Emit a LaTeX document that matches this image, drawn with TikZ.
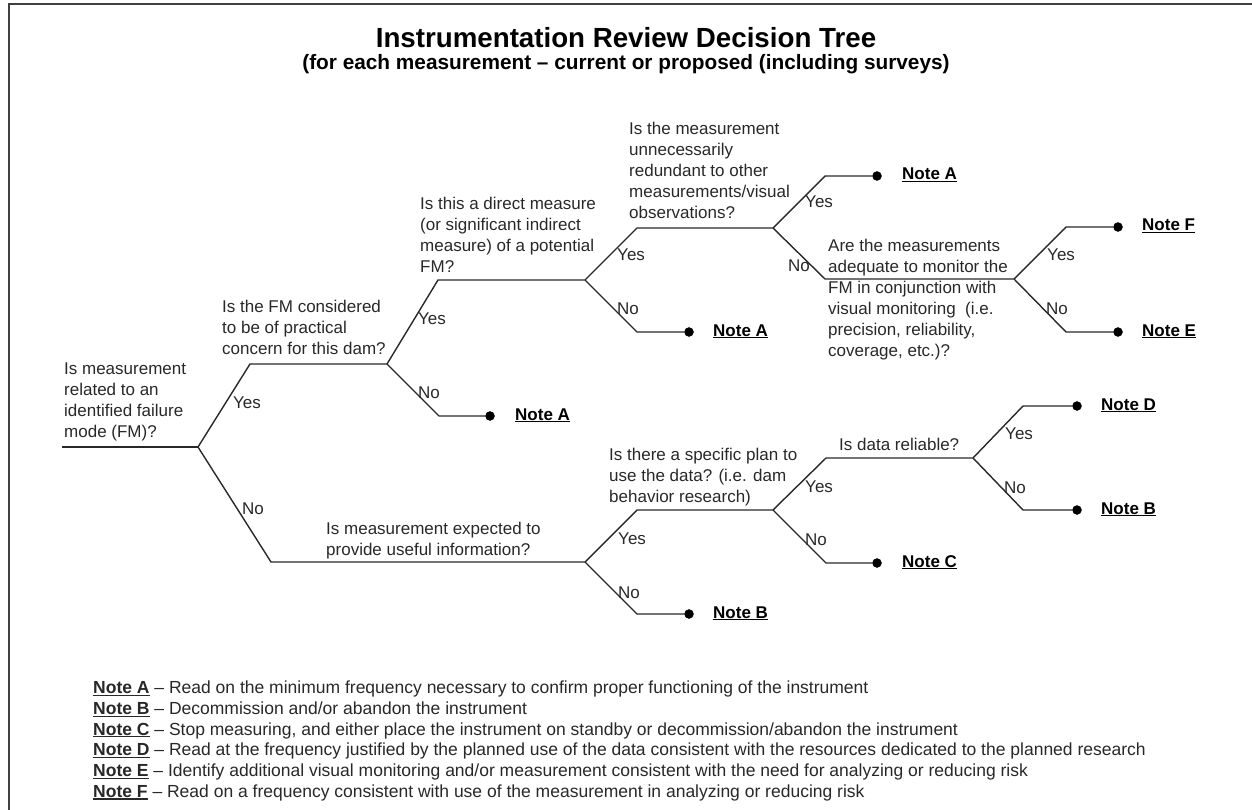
\documentclass[tikz,border=0pt]{standalone}
\usepackage{fontspec}
\setmainfont{Liberation Sans}
\usepackage{tikz}
\definecolor{inkgray}{RGB}{40,40,40}
% underlined bold note label
\newcommand\notelbl[1]{\setbox0\hbox{\bfseries Note #1}\rlap{\rule[-2.2pt]{\wd0}{1.1pt}}\box0\relax}
\tikzset{
  % frame of the page
  frame/.style={draw=black!75,line width=2pt},
  % branch line
  branch/.style={draw=inkgray,line width=1.4pt},
  % end dot
  enddot/.style={circle,fill=black,draw=black,inner sep=0mm,minimum size=9pt},
  % question text
  question/.style={anchor=north west,inner sep=0pt,align=left,text=inkgray,font=\fontsize{17}{21}\selectfont},
  % yes / no label
  answer/.style={anchor=base west,inner sep=0pt,text=inkgray,font=\fontsize{17}{21}\selectfont},
  % note label at an end dot
  notetag/.style={anchor=base west,inner sep=0pt,font=\fontsize{17}{21}\selectfont},
  % titles
  titletext/.style={anchor=base,inner sep=0pt,font=\bfseries\fontsize{27.7}{32}\selectfont},
  subtext/.style={anchor=base,inner sep=0pt,font=\bfseries\fontsize{20.8}{24}\selectfont},
  % list of notes
  legend/.style={anchor=north west,inner sep=0pt,align=left,text=inkgray,font=\fontsize{17.5}{20.7}\selectfont}
}
\begin{document}
\begin{tikzpicture}[x=1pt,y=-1pt]
\useasboundingbox (0,0) rectangle (1252,810);
\draw[frame] (9,810) -- (9,4) -- (1252,4);
\node[titletext] (title) at (626,48) {Instrumentation Review Decision Tree};
\node[subtext] (subtitle) at (626,70) {(for each measurement – current or proposed (including surveys)};
%%%%%%%%%%%%%%%%%%%%%%%%%%%%%%%%%%%%%%%
% branch points and elbows
\coordinate (root) at (62,447);
\coordinate (b0) at (198,447);
\coordinate (e01) at (250,364);
\coordinate (b1) at (387,364);
\coordinate (e02) at (271,562);
\coordinate (b2) at (585,562);
\coordinate (e11) at (438,280);
\coordinate (b5) at (585,280);
\coordinate (e12) at (439,416);
\coordinate (e51) at (637,228);
\coordinate (b6) at (773,228);
\coordinate (e52) at (637,332);
\coordinate (e61) at (825,176);
\coordinate (e62) at (825,279);
\coordinate (b7) at (1014,279);
\coordinate (e71) at (1066,227);
\coordinate (e72) at (1066,332);
\coordinate (e21) at (637,510);
\coordinate (b3) at (773,510);
\coordinate (e22) at (637,614);
\coordinate (e31) at (826,458);
\coordinate (b4) at (973,458);
\coordinate (e32) at (826,563);
\coordinate (e41) at (1023,406);
\coordinate (e42) at (1023,510);
%%%%%%%%%%%%%%%%%%%%%%%%%%%%%%%%%%%%%%%
% end dots
\node[enddot] (d1) at (490,416) {};
\node[enddot] (d2) at (689,332) {};
\node[enddot] (d3) at (877,176) {};
\node[enddot] (d4) at (1118,227) {};
\node[enddot] (d5) at (1118,332) {};
\node[enddot] (d6) at (1077,406) {};
\node[enddot] (d7) at (1077,510) {};
\node[enddot] (d8) at (877,563) {};
\node[enddot] (d9) at (689,614) {};
%%%%%%%%%%%%%%%%%%%%%%%%%%%%%%%%%%%%%%%
% lines
\draw[branch] (root) -- (b0);
\draw[branch] (b0) -- (e01) -- (b1);
\draw[branch] (b0) -- (e02) -- (b2);
\draw[branch] (b1) -- (e11) -- (b5);
\draw[branch] (b1) -- (e12) -- (d1);
\draw[branch] (b5) -- (e51) -- (b6);
\draw[branch] (b5) -- (e52) -- (d2);
\draw[branch] (b6) -- (e61) -- (d3);
\draw[branch] (b6) -- (e62) -- (b7);
\draw[branch] (b7) -- (e71) -- (d4);
\draw[branch] (b7) -- (e72) -- (d5);
\draw[branch] (b2) -- (e21) -- (b3);
\draw[branch] (b2) -- (e22) -- (d9);
\draw[branch] (b3) -- (e31) -- (b4);
\draw[branch] (b3) -- (e32) -- (d8);
\draw[branch] (b4) -- (e41) -- (d6);
\draw[branch] (b4) -- (e42) -- (d7);
%%%%%%%%%%%%%%%%%%%%%%%%%%%%%%%%%%%%%%%
% questions
\node[question] (q0) at (64,363) {Is measurement\\related to an\\identified failure\\mode (FM)?};
\node[question] (q1) at (222,300) {Is the FM considered\\to be of practical\\concern for this dam?};
\node[question] (q2) at (420,197) {Is this a direct measure\\(or significant indirect\\measure) of a potential\\FM?};
\node[question] (q3) at (629,122) {Is the measurement\\unnecessarily\\redundant to other\\measurements/visual\\observations?};
\node[question] (q4) at (828,239) {Are the measurements\\adequate to monitor the\\FM in conjunction with\\visual monitoring\ \ (i.e.\\precision, reliability,\\coverage, etc.)?};
\node[question] (q5) at (326,522) {Is measurement expected to\\provide useful information?};
\node[question] (q6) at (609,448) {Is there a specific plan to\\use the data? (i.e. dam\\behavior research)};
\node[answer] (q7) at (839,450) {Is data reliable?};
%%%%%%%%%%%%%%%%%%%%%%%%%%%%%%%%%%%%%%%
% yes / no
\node[answer] (y0) at (233,408) {Yes};
\node[answer] (n0) at (242,514) {No};
\node[answer] (y1) at (418,324) {Yes};
\node[answer] (n1) at (418,398) {No};
\node[answer] (y5) at (617,261) {Yes};
\node[answer] (n5) at (617,314) {No};
\node[answer] (y6) at (805,208) {Yes};
\node[answer,anchor=base east] (n6) at (810,272) {No};
\node[answer] (y7) at (1047,261) {Yes};
\node[answer] (n7) at (1046,314) {No};
\node[answer] (y2) at (618,544) {Yes};
\node[answer] (n2) at (618,598) {No};
\node[answer] (y3) at (805,492) {Yes};
\node[answer] (n3) at (805,545) {No};
\node[answer] (y4) at (1005,439) {Yes};
\node[answer] (n4) at (1004,493) {No};
%%%%%%%%%%%%%%%%%%%%%%%%%%%%%%%%%%%%%%%
% notes at the dots
\node[notetag] (t1) at (515,420) {\notelbl{A}};
\node[notetag] (t2) at (713,336) {\notelbl{A}};
\node[notetag] (t3) at (902,180) {\notelbl{A}};
\node[notetag] (t4) at (1142,231) {\notelbl{F}};
\node[notetag] (t5) at (1142,336) {\notelbl{E}};
\node[notetag] (t6) at (1101,410) {\notelbl{D}};
\node[notetag] (t7) at (1101,514) {\notelbl{B}};
\node[notetag] (t8) at (902,567) {\notelbl{C}};
\node[notetag] (t9) at (713,618) {\notelbl{B}};
%%%%%%%%%%%%%%%%%%%%%%%%%%%%%%%%%%%%%%%
\node[legend] (notes) at (93,681) {\notelbl{A} – Read on the minimum frequency necessary to confirm proper functioning of the instrument\\
\notelbl{B} – Decommission and/or abandon the instrument\\
\notelbl{C} – Stop measuring, and either place the instrument on standby or decommission/abandon the instrument\\
\notelbl{D} – Read at the frequency justified by the planned use of the data consistent with the resources dedicated to the planned research\\
\notelbl{E} – Identify additional visual monitoring and/or measurement consistent with the need for analyzing or reducing risk\\
\notelbl{F} – Read on a frequency consistent with use of the measurement in analyzing or reducing risk};
\end{tikzpicture}
\end{document}
